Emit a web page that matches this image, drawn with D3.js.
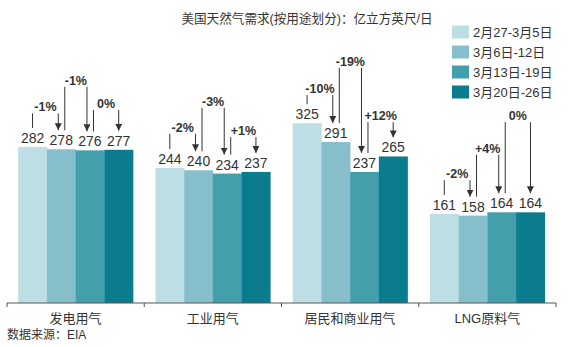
<!DOCTYPE html>
<html>
<head>
<meta charset="utf-8">
<script src="https://cdn.jsdelivr.net/npm/d3@7"></script>
<style>
  html, body { margin: 0; padding: 0; background: #fff; }
  svg { display: block; }
  text { font-family: "Liberation Sans", Arial, "Noto Sans CJK SC", sans-serif; fill: #333; }
</style>
</head>
<body>
<svg id="chart" width="584" height="347"></svg>
<script>
// ---- data ----
const categories = ["发电用气", "工业用气", "居民和商业用气", "LNG原料气"];
const periods = ["2月27-3月5日", "3月6日-12日", "3月13日-19日", "3月20日-26日"];
const seriesP1 = [282, 244, 325, 161];
const seriesP2 = [278, 240, 291, 158];
const seriesP3 = [276, 234, 237, 164];
const seriesP4 = [277, 237, 265, 164];
// week-on-week change labels per category (P1→P2, P2→P3, P3→P4)
const pctPower = ["-1%", "-1%", "0%"];
const pctIndustry = ["-2%", "-3%", "+1%"];
const pctResidential = ["-10%", "-19%", "+12%"];
const pctLNG = ["-2%", "+4%", "0%"];
// annotation bracket heights, in chart value units
const bracketPower = [343, 391, 349];
const bracketIndustry = [306, 353, 300];
const bracketResidential = [376, 425, 327];
const bracketLNG = [222, 268, 327];
const title = "美国天然气需求(按用途划分)：亿立方英尺/日";
const source = "数据来源：EIA";

const colors = ["#bddee4", "#86bfcb", "#439fac", "#0b7c8d"];

const series = [seriesP1, seriesP2, seriesP3, seriesP4];
const pcts = [pctPower, pctIndustry, pctResidential, pctLNG];
const brackets = [bracketPower, bracketIndustry, bracketResidential, bracketLNG];

const svg = d3.select("#chart");

const x0 = d3.scaleBand().domain(categories).range([7, 556]).paddingInner(0).paddingOuter(0);
const x1 = d3.scaleBand().domain(d3.range(periods.length)).range([0, x0.bandwidth()])
  .paddingInner(0).paddingOuter(0.39);
const y = d3.scaleLinear().domain([0, 500]).range([303, 26.5]);

// defs: arrowhead
svg.append("defs").append("marker")
  .attr("id", "arrow").attr("viewBox", "0 0 10 10")
  .attr("refX", 10).attr("refY", 5)
  .attr("markerWidth", 7).attr("markerHeight", 7)
  .attr("markerUnits", "userSpaceOnUse")
  .attr("orient", "auto")
  .append("path").attr("d", "M0,0 L10,5 L0,10 Z").attr("fill", "#333");

// title
svg.append("text").attr("x", 307).attr("y", 23).attr("text-anchor", "middle")
  .style("font-size", "12.6px").text(title);

// bars
const groups = svg.append("g").selectAll("g").data(categories).join("g")
  .attr("transform", d => `translate(${x0(d)},0)`);

groups.each(function(cat, ci) {
  const g = d3.select(this);
  const vals = series.map(s => s[ci]);
  g.selectAll("rect").data(vals).join("rect")
    .attr("x", (d, i) => x1(i))
    .attr("width", x1.bandwidth() + 0.3)
    .attr("y", d => y(d))
    .attr("height", d => y(0) - y(d))
    .attr("fill", (d, i) => colors[i]);
  g.selectAll("text.val").data(vals).join("text").attr("class", "val")
    .attr("x", (d, i) => x1(i) + x1.bandwidth() / 2)
    .attr("y", d => y(d) - 4)
    .attr("text-anchor", "middle")
    .style("font-size", "14px")
    .text(d => d);

  // change annotations
  const cx = i => x1(i) + x1.bandwidth() / 2;
  for (let p = 0; p < vals.length - 1; p++) {
    const upX = cx(p) + (p > 0 ? 3.5 : 0);
    const dnX = cx(p + 1) - (p + 1 < vals.length - 1 ? 3 : 0);
    const topY = y(brackets[ci][p]);
    g.append("line").attr("x1", upX).attr("x2", upX)
      .attr("y1", y(vals[p]) - 19).attr("y2", topY)
      .attr("stroke", "#333").attr("stroke-width", 1);
    g.append("line").attr("x1", dnX).attr("x2", dnX)
      .attr("y1", topY).attr("y2", y(vals[p + 1]) - 19)
      .attr("stroke", "#333").attr("stroke-width", 1)
      .attr("marker-end", "url(#arrow)");
    g.append("text").attr("x", (upX + dnX) / 2).attr("y", topY - 2)
      .attr("text-anchor", "middle")
      .style("font-size", "12.5px").style("font-weight", "bold")
      .text(pcts[ci][p]);
  }
});

// axis
const axis = svg.append("g").attr("transform", `translate(0,${y(0)})`);
axis.append("line").attr("x1", x0.range()[0]).attr("x2", x0.range()[1])
  .attr("stroke", "#555").attr("stroke-width", 1);
const bounds = categories.map(c => x0(c)).concat([x0.range()[1]]);
axis.selectAll("line.tick").data(bounds).join("line").attr("class", "tick")
  .attr("x1", d => d).attr("x2", d => d).attr("y1", 0).attr("y2", 4)
  .attr("stroke", "#555").attr("stroke-width", 1);
axis.selectAll("text.cat").data(categories).join("text").attr("class", "cat")
  .attr("x", d => x0(d) + x0.bandwidth() / 2).attr("y", 20)
  .attr("text-anchor", "middle").style("font-size", "13px").text(d => d);

// source
svg.append("text").attr("x", 7).attr("y", 339).style("font-size", "12px").text(source);

// legend
const legend = svg.append("g").selectAll("g").data(periods).join("g")
  .attr("transform", (d, i) => `translate(452,${32 + i * 20})`);
legend.append("rect").attr("x", 0).attr("y", -6.5).attr("width", 17).attr("height", 13)
  .attr("fill", (d, i) => colors[i]);
legend.append("text").attr("x", 21).attr("y", 0).attr("dy", "0.36em")
  .style("font-size", "13px").text(d => d);
</script>
</body>
</html>
